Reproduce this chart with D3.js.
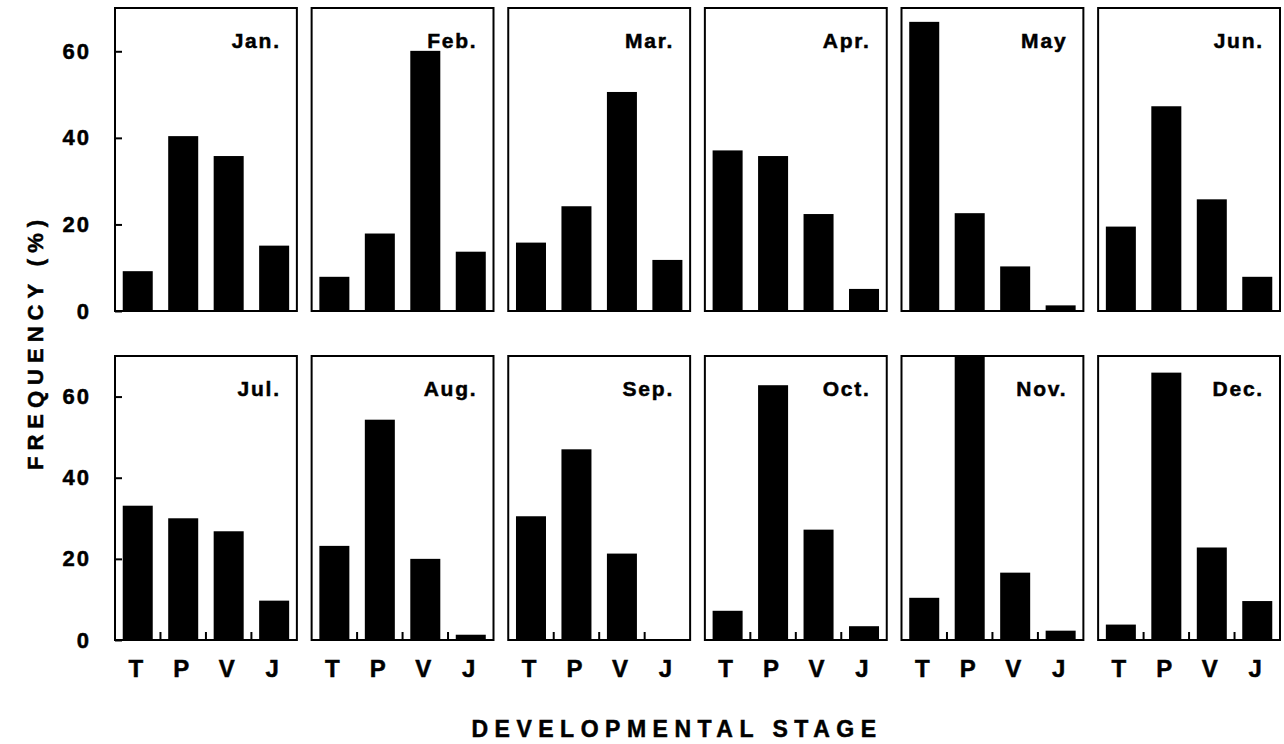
<!DOCTYPE html>
<html>
<head>
<meta charset="utf-8">
<script src="https://cdn.jsdelivr.net/npm/d3@7"></script>
<style>
  html, body { margin: 0; padding: 0; background: #fff; }
  svg { display: block; font-family: 'Liberation Sans', Arial, sans-serif; font-weight: bold; }
  svg text { fill: #000; stroke: #000; stroke-width: 0.5px; }
</style>
</head>
<body>
<div id="chart"></div>
<script>
// values (percent of individuals per stage)
const months = ['Jan.', 'Feb.', 'Mar.', 'Apr.', 'May', 'Jun.',
                'Jul.', 'Aug.', 'Sep.', 'Oct.', 'Nov.', 'Dec.'];
const stages = ['T', 'P', 'V', 'J'];

const tValues = [9.2, 7.9, 15.8, 37.1, 66.8, 19.5, 33.1, 23.2, 30.5, 7.2, 10.4, 3.8];
const pValues = [40.4, 17.9, 24.2, 35.8, 22.6, 47.3, 30.0, 54.3, 47.0, 62.8, 73.0, 65.9];
const vValues = [35.8, 60.1, 50.6, 22.4, 10.3, 25.8, 26.8, 20.0, 21.3, 27.2, 16.6, 22.8];
const jValues = [15.1, 13.7, 11.8, 5.1, 1.3, 7.9, 9.7, 1.3, 0, 3.4, 2.3, 9.6];

const yTicks = [0, 20, 40, 60];

const width = 1284;
const height = 744;

// two rows of six panels
const rows = [
  { top: 8, bottom: 311 },
  { top: 356, bottom: 640 },
];

const svg = d3.select('#chart')
  .append('svg')
  .attr('width', width)
  .attr('height', height);

const colScale = d3.scaleBand()
  .domain(d3.range(6))
  .range([115, 1280])
  .paddingInner(0.075);

const seriesByStage = [tValues, pValues, vValues, jValues];

function drawPanel(i) {
  const row = rows[Math.floor(i / 6)];
  const col = i % 6;
  const left = colScale(col);
  const w = colScale.bandwidth();
  const isBottomRow = i >= 6;

  const x = d3.scaleBand()
    .domain(stages)
    .range([left, left + w])
    .paddingInner(0.34)
    .paddingOuter(0.17);

  const y = d3.scaleLinear()
    .domain([0, 70])
    .range([row.bottom, row.top])
    .clamp(true);

  const g = svg.append('g').attr('class', 'panel');

  const values = stages.map((s, k) => ({ stage: s, value: seriesByStage[k][i] }));

  g.selectAll('rect.bar')
    .data(values)
    .join('rect')
    .attr('class', 'bar')
    .attr('x', d => x(d.stage))
    .attr('width', x.bandwidth())
    .attr('y', d => y(d.value))
    .attr('height', d => y(0) - y(d.value))
    .attr('fill', '#000');

  // frame
  g.append('rect')
    .attr('x', left)
    .attr('y', row.top)
    .attr('width', w)
    .attr('height', row.bottom - row.top)
    .attr('fill', 'none')
    .attr('stroke', '#000')
    .attr('stroke-width', 2);

  // month label
  g.append('text')
    .attr('x', left + w - 16)
    .attr('y', row.top + 40)
    .attr('text-anchor', 'end')
    .attr('font-size', 21)
    .attr('letter-spacing', 1.8)
    .text(months[i]);

  if (col === 0) {
    const yAxis = d3.axisLeft(y)
      .tickValues(yTicks)
      .tickSize(-7)
      .tickPadding(24)
      .tickFormat(d3.format('d'));

    const ax = g.append('g')
      .attr('transform', `translate(${left}, 0)`)
      .call(yAxis);
    ax.select('.domain').remove();
    ax.selectAll('line').attr('stroke-width', 2);
    ax.selectAll('text')
      .attr('font-size', 22)
      .attr('letter-spacing', 2)
      .attr('font-family', "'Liberation Sans', Arial, sans-serif")
      .attr('font-weight', 'bold');
  }

  if (isBottomRow) {
    // small inward ticks between the bars
    const step = x.step();
    const tickXs = stages.slice(1).map(s => x(s) - step * x.paddingInner() / 2);
    g.selectAll('line.xtick')
      .data(tickXs)
      .join('line')
      .attr('class', 'xtick')
      .attr('x1', d => d)
      .attr('x2', d => d)
      .attr('y1', row.bottom)
      .attr('y2', row.bottom - 8)
      .attr('stroke', '#000')
      .attr('stroke-width', 2);

    g.selectAll('text.xlabel')
      .data(stages)
      .join('text')
      .attr('class', 'xlabel')
      .attr('x', d => x(d) + x.bandwidth() / 2 - 2)
      .attr('y', 677)
      .attr('text-anchor', 'middle')
      .attr('font-size', 24)
      .text(d => d);
  }
}

months.forEach((m, i) => drawPanel(i));

// axis titles
svg.append('text')
  .attr('x', 677)
  .attr('y', 737)
  .attr('text-anchor', 'middle')
  .attr('font-size', 23)
  .attr('letter-spacing', 6.5)
  .text('DEVELOPMENTAL STAGE');

svg.append('text')
  .attr('transform', 'translate(43, 342) rotate(-90)')
  .attr('text-anchor', 'middle')
  .attr('font-size', 22)
  .attr('letter-spacing', 6)
  .text('FREQUENCY (%)');
</script>
</body>
</html>
